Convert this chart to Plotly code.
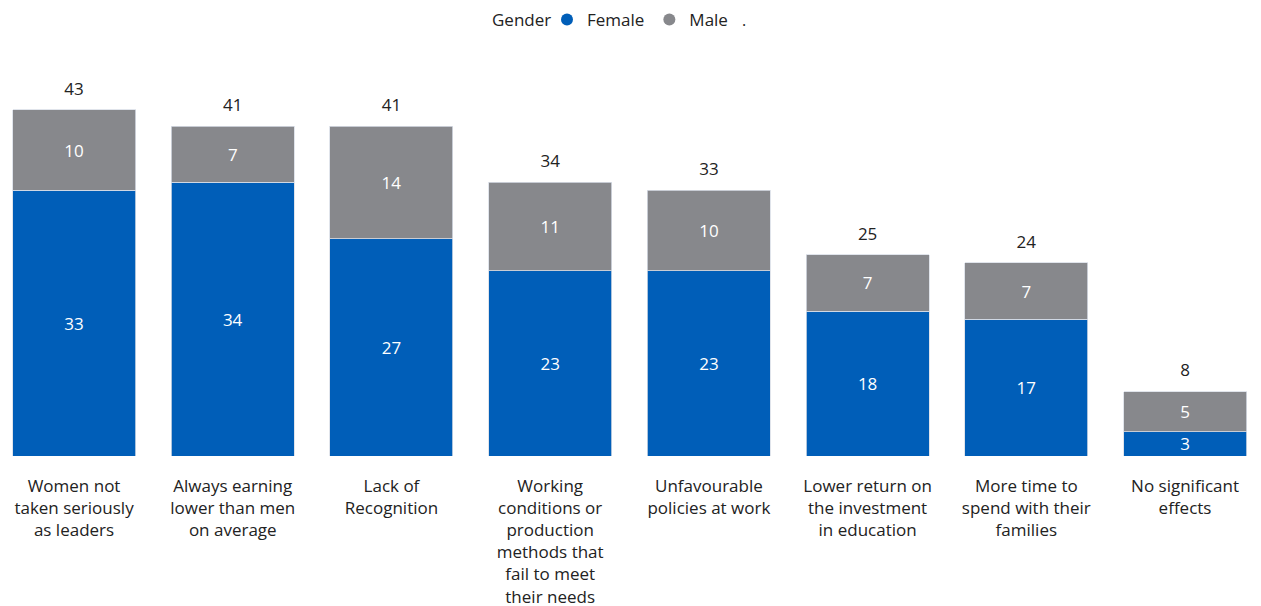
import plotly.graph_objects as go

# 數據
categories = [
    "Women not<br>taken seriously<br>as leaders",
    "Always earning<br>lower than men<br>on average",
    "Lack of<br>Recognition",
    "Working<br>conditions or<br>production<br>methods that<br>fail to meet<br>their needs",
    "Unfavourable<br>policies at work",
    "Lower return on<br>the investment<br>in education",
    "More time to<br>spend with their<br>families",
    "No significant<br>effects",
]
female = [33, 34, 27, 23, 23, 18, 17, 3]
male = [10, 7, 14, 11, 10, 7, 7, 5]
totals = [f + m for f, m in zip(female, male)]

FEMALE_C = "#005EB8"
MALE_C = "#87888C"
FONT = "Open Sans, Noto Sans, sans-serif"
TXT = "#222222"

x_idx = list(range(len(categories)))

fig = go.Figure()

for vals, name, color in [(female, "Female", FEMALE_C), (male, "Male", MALE_C)]:
    fig.add_trace(go.Bar(
        x=x_idx, y=vals, name=name, marker_color=color,
        marker_line=dict(color="#d8dde6", width=0.8),
        text=vals, textposition="inside", insidetextanchor="middle",
        textangle=0, constraintext="none",
        textfont=dict(color="white", size=17, family=FONT),
        showlegend=False, hoverinfo="y",
    ))

# 總數標籤 (透明 marker 把文字往上推)
fig.add_trace(go.Scatter(
    x=x_idx, y=totals, mode="markers+text", text=totals,
    textposition="top center",
    marker=dict(size=16, opacity=0),
    textfont=dict(color=TXT, size=17, family=FONT),
    showlegend=False, hoverinfo="skip",
))

# 圖例用的圓點
for name, color in [("Female", FEMALE_C), ("Male", MALE_C)]:
    fig.add_trace(go.Scatter(
        x=[None], y=[None], mode="markers", name=name,
        marker=dict(color=color, size=17, symbol="circle"),
    ))

fig.add_annotation(
    text="Gender", x=482 / 1261, y=1.103, xref="paper", yref="paper",
    xanchor="left", yanchor="middle", showarrow=False,
    font=dict(size=17, color=TXT, family=FONT),
)
fig.add_annotation(
    text=".", x=736 / 1261, y=1.068, xref="paper", yref="paper",
    yanchor="bottom", showarrow=False,
    font=dict(size=16, color=TXT, family=FONT),
)

fig.update_layout(
    barmode="stack",
    bargap=0.225,
    width=1261, height=606,
    margin=dict(l=0, r=0, t=52, b=158, autoexpand=False),
    plot_bgcolor="white", paper_bgcolor="white",
    font=dict(family=FONT, size=17, color=TXT),
    legend=dict(
        orientation="h", x=539 / 1261, xanchor="left",
        y=1.101, yanchor="middle", traceorder="normal",
        font=dict(size=17, color=TXT),
        itemwidth=30, itemsizing="constant",
    ),
    xaxis=dict(
        tickmode="array", tickvals=x_idx, ticktext=categories,
        range=[-0.416, 7.529], showgrid=False, zeroline=False,
        showline=False, ticks="", tickangle=0,
        tickfont=dict(size=17, color=TXT),
        ticklabelstandoff=18,
    ),
    yaxis=dict(
        range=[0, 49.2], visible=False, showgrid=False, zeroline=False,
    ),
)

fig.write_html("out.html")
